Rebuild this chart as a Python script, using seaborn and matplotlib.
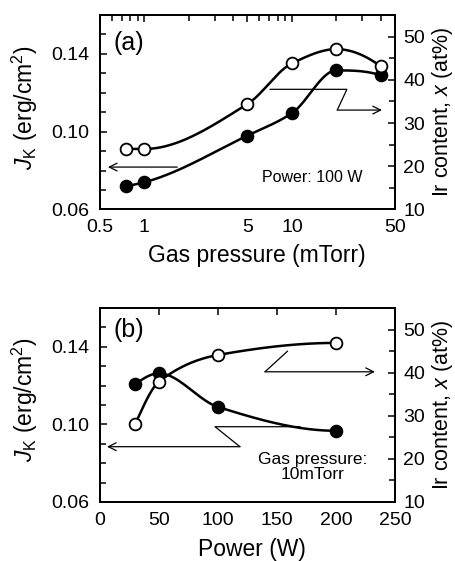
"""
plot.py
-------
Jk and Ir content versus sputtering gas pressure (a) and power (b).
Two stacked panels, each with a twin right axis for Ir content.
"""

import numpy as np
import pandas as pd
import matplotlib.pyplot as plt
import seaborn as sns
from matplotlib.ticker import FixedLocator, NullFormatter


# ------------------------------------------------------------------
# DATA
# ------------------------------------------------------------------

pressure    = [0.75, 1, 5, 10, 20, 40]            # mTorr
jk_pressure = [0.072, 0.074, 0.098, 0.1095, 0.1315, 0.129]
ir_pressure = [24.0, 24.0, 34.4, 43.8, 47.1, 43.1]

power       = [30, 50, 100, 200]                  # W
jk_power    = [0.1207, 0.1263, 0.109, 0.0967]
ir_power    = [28.2, 37.9, 44.1, 46.9]

jk_ticks       = [0.06, 0.10, 0.14]
jk_minor       = [0.07, 0.08, 0.09, 0.11, 0.12, 0.13, 0.15]
ir_ticks       = [10, 20, 30, 40, 50]
ir_minor       = [15, 25, 35, 45]
pressure_ticks = [0.5, 1, 5, 10, 50]
pressure_minor = [0.6, 0.7, 0.8, 0.9, 2, 3, 4, 6, 7, 8, 9, 20, 30, 40]
power_ticks    = [0, 50, 100, 150, 200, 250]


# ------------------------------------------------------------------
# STYLE
# ------------------------------------------------------------------

sns.set_theme(style="white")
plt.rcParams.update({
    "font.family": ["Liberation Sans", "DejaVu Sans"],
    "mathtext.fontset": "custom",
    "mathtext.rm": "Liberation Sans",
    "mathtext.it": "Liberation Sans:italic",
    "axes.edgecolor": "black",
    "axes.linewidth": 1.3,
    "text.color": "black",
    "axes.labelcolor": "black",
    "xtick.color": "black",
    "ytick.color": "black",
})

LW = 1.8
MS = 72


# ------------------------------------------------------------------
# HELPERS
# ------------------------------------------------------------------

def smooth(x, y, n=300):
    """Monotone (PCHIP) cubic through the points, for the drawn curve."""
    x = np.asarray(x, float)
    y = np.asarray(y, float)
    m = len(x)
    h = np.diff(x)
    delta = np.diff(y) / h
    d = np.zeros(m)
    for k in range(1, m - 1):
        if delta[k - 1] * delta[k] > 0:
            w1 = 2 * h[k] + h[k - 1]
            w2 = h[k] + 2 * h[k - 1]
            d[k] = (w1 + w2) / (w1 / delta[k - 1] + w2 / delta[k])

    def end_slope(h0, h1, d0, d1):
        s = ((2 * h0 + h1) * d0 - h0 * d1) / (h0 + h1)
        if np.sign(s) != np.sign(d0):
            return 0.0
        if np.sign(d0) != np.sign(d1) and abs(s) > abs(3 * d0):
            return 3 * d0
        return s

    d[0] = end_slope(h[0], h[1], delta[0], delta[1])
    d[-1] = end_slope(h[-1], h[-2], delta[-1], delta[-2])

    xs = np.linspace(x[0], x[-1], n)
    idx = np.clip(np.searchsorted(x, xs) - 1, 0, m - 2)
    t = (xs - x[idx]) / h[idx]
    h00 = 2 * t ** 3 - 3 * t ** 2 + 1
    h10 = t ** 3 - 2 * t ** 2 + t
    h01 = -2 * t ** 3 + 3 * t ** 2
    h11 = t ** 3 - t ** 2
    ys = (h00 * y[idx] + h10 * h[idx] * d[idx]
          + h01 * y[idx + 1] + h11 * h[idx] * d[idx + 1])
    return xs, ys


def draw_series(ax, x, y, filled, logx=False):
    if logx:
        xs, ys = smooth(np.log10(x), y)
        xs = 10 ** xs
    else:
        xs, ys = smooth(x, y)
    curve = pd.DataFrame({"x": xs, "y": ys})
    sns.lineplot(data=curve, x="x", y="y", ax=ax, color="black",
                 linewidth=LW, sort=False, zorder=2)
    pts = pd.DataFrame({"x": x, "y": y})
    sns.scatterplot(data=pts, x="x", y="y", ax=ax, s=MS, zorder=3,
                    facecolor="black" if filled else "white",
                    edgecolor="black", linewidth=1.3)


def arrow_path(ax, xs, ys):
    """Thin zig-zag leader line ending in an open arrowhead."""
    ax.plot(xs[:-1], ys[:-1], color="black", lw=0.9, zorder=1)
    ax.annotate("", xy=(xs[-1], ys[-1]), xytext=(xs[-2], ys[-2]),
                arrowprops=dict(arrowstyle="->", color="black", lw=0.9,
                                mutation_scale=14, shrinkA=0, shrinkB=0))


def style_axes(ax, ax2, xticks, xlabels, xminor, xlabel):
    ax.set_ylim(0.06, 0.16)
    ax.set_yticks(jk_ticks, [f"{v:.2f}" for v in jk_ticks])
    ax.yaxis.set_minor_locator(FixedLocator(jk_minor))
    ax.yaxis.set_minor_formatter(NullFormatter())
    ax.set_xticks(xticks, xlabels)
    ax.xaxis.set_minor_locator(FixedLocator(xminor or []))
    ax.xaxis.set_minor_formatter(NullFormatter())

    ax2.set_ylim(10, 55)
    ax2.set_yticks(ir_ticks, [str(v) for v in ir_ticks])
    ax2.yaxis.set_minor_locator(FixedLocator(ir_minor))
    ax2.yaxis.set_minor_formatter(NullFormatter())

    ax.tick_params(axis="both", which="both", direction="in",
                   labelsize=14, width=1.1, top=True, right=False)
    ax.tick_params(which="major", length=5)
    ax.tick_params(which="minor", length=4)
    ax.tick_params(axis="y", pad=8)
    ax.tick_params(axis="x", pad=7)
    ax2.tick_params(axis="y", which="both", direction="in", labelsize=14,
                    width=1.1, pad=6)
    ax2.tick_params(which="major", length=5)
    ax2.tick_params(which="minor", length=4)

    ax.set_ylabel(r"$J_{\rm K}$ (erg/cm$^2$)", fontsize=16.5)
    ax.yaxis.set_label_coords(-0.205, 0.525)
    ax2.set_ylabel(r"Ir content, $x$ (at%)", fontsize=15.5)
    ax2.yaxis.set_label_coords(1.118, 0.5)
    ax.set_xlabel(xlabel, fontsize=16.5)
    ax.xaxis.set_label_coords(0.53, -0.18)
    for s in ax.spines.values():
        s.set_linewidth(1.3)


# ------------------------------------------------------------------
# FIGURE
# ------------------------------------------------------------------

fig = plt.figure(figsize=(4.56, 5.61), dpi=100)

# (a) gas pressure
ax_a = fig.add_axes([0.2193, 0.6266, 0.6469, 0.3467])
ax_a.set_xscale("log")
ax_a.set_xlim(0.5, 50)
ax_a2 = ax_a.twinx()
ax_a2.set_xscale("log")
ax_a2.set_xlim(0.5, 50)
draw_series(ax_a, pressure, jk_pressure, filled=True, logx=True)
draw_series(ax_a2, pressure, ir_pressure, filled=False, logx=True)
arrow_path(ax_a2, [7.1, 23.6, 20.3, 40.8], [37.8, 37.8, 33.0, 33.0])
arrow_path(ax_a, [1.67, 0.566], [0.0818, 0.0818])
style_axes(ax_a, ax_a2, pressure_ticks, ["0.5", "1", "5", "10", "50"],
           pressure_minor, "Gas pressure (mTorr)")
ax_a.text(0.045, 0.855, "(a)", transform=ax_a.transAxes, fontsize=18,
          ha="left", va="center")
ax_a.text(0.72, 0.165, "Power: 100 W", transform=ax_a.transAxes,
          fontsize=11.5, ha="center", va="center")

# (b) power
ax_b = fig.add_axes([0.2193, 0.1052, 0.6469, 0.3458])
ax_b.set_xlim(0, 250)
ax_b2 = ax_b.twinx()
ax_b2.set_xlim(0, 250)
draw_series(ax_b, power, jk_power, filled=True)
draw_series(ax_b2, power, ir_power, filled=False)
arrow_path(ax_b2, [159, 139.8, 233], [45.0, 40.2, 40.2])
arrow_path(ax_b, [169.5, 97.5, 118.6, 5.9], [0.0988, 0.0988, 0.0885, 0.0885])
style_axes(ax_b, ax_b2, power_ticks, [str(v) for v in power_ticks],
           None, "Power (W)")
ax_b.xaxis.set_label_coords(0.516, -0.185)
ax_b.text(0.045, 0.885, "(b)", transform=ax_b.transAxes, fontsize=18,
          ha="left", va="center")
ax_b.text(0.72, 0.18, "Gas pressure:\n10mTorr", transform=ax_b.transAxes,
          fontsize=12.5, ha="center", va="center", linespacing=0.95)

for a in (ax_a, ax_a2, ax_b, ax_b2):
    a.grid(False)
    a.set_facecolor("none")

fig.savefig("out.png", dpi=100)
